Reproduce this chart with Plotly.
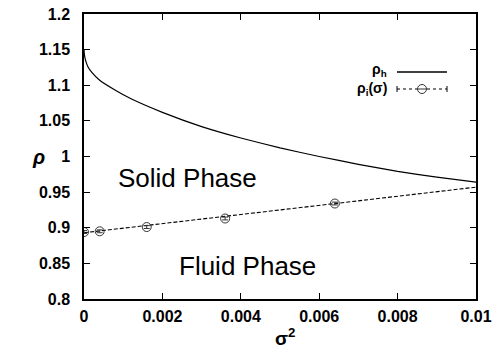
import plotly.graph_objects as go

# ---- data ----
rho_h_x = [0.0, 0.00001, 0.00004, 0.0001, 0.0002, 0.0004, 0.0008, 0.0012,
           0.002, 0.003, 0.004, 0.005, 0.006, 0.007, 0.008, 0.009, 0.01]
rho_h_y = [1.150, 1.143, 1.135, 1.126, 1.118, 1.107, 1.093, 1.081,
           1.062, 1.042, 1.026, 1.012, 1.000, 0.989, 0.979, 0.971, 0.964]

rho_i_x = [0.0, 0.0004, 0.0016, 0.0036, 0.0064]
rho_i_y = [0.894, 0.895, 0.901, 0.913, 0.934]
rho_i_err = [0.002, 0.002, 0.002, 0.002, 0.002]

fit_x = [0.0, 0.01]
fit_y = [0.893, 0.957]

x_ticks = [0, 0.002, 0.004, 0.006, 0.008, 0.01]
x_tick_labels = ["0", "0.002", "0.004", "0.006", "0.008", "0.01"]
y_ticks = [0.8, 0.85, 0.9, 0.95, 1.0, 1.05, 1.1, 1.15, 1.2]
y_tick_labels = ["0.8", "0.85", "0.9", "0.95", "1", "1.05", "1.1", "1.15", "1.2"]

W, H = 492, 349
L, R, T, B = 84, 16, 14, 50
PW, PH = W - L - R, H - T - B

def px(x):
    return (x - L) / PW

def py(y):
    return (H - B - y) / PH

FONT = "Liberation Sans, Arial, sans-serif"

fig = go.Figure()
fig.add_trace(go.Scatter(x=rho_h_x, y=rho_h_y, mode="lines",
                         line=dict(color="black", width=1.2, shape="spline", smoothing=0.3),
                         showlegend=False))
fig.add_trace(go.Scatter(x=fit_x, y=fit_y, mode="lines",
                         line=dict(color="black", width=1.1, dash="4px,2px"),
                         showlegend=False))
fig.add_trace(go.Scatter(x=rho_i_x, y=rho_i_y, mode="markers",
                         marker=dict(symbol="circle-open", size=9, color="#333",
                                     line=dict(width=1)),
                         error_y=dict(type="data", array=rho_i_err, color="#333",
                                      thickness=1, width=3),
                         showlegend=False))

def note(x, y, text, size, xanchor="center", ref="paper"):
    return dict(x=x, y=y, xref=ref if ref == "paper" else "x",
                yref=ref if ref == "paper" else "y", text=text, showarrow=False,
                xanchor=xanchor, yanchor="middle",
                font=dict(family=FONT, size=size, color="black"))

ann = [
    note(0.00263, 0.97, "Solid Phase", 26, ref="data"),
    note(0.00416, 0.847, "Fluid Phase", 26, ref="data"),
    # axis titles
    note(px(38), py(157), "<b><i>ρ</i></b>", 20),
    note(px(285), py(337), "<b>σ<sup>2</sup></b>", 19),
    # legend labels
    note(px(389), py(70), "<b>ρ<sub>h</sub></b>", 14, xanchor="right"),
    note(px(389), py(89), "<b>ρ<sub>i</sub>(σ)</b>", 14, xanchor="right"),
]

shapes = []
shapes.append(dict(type="line", xref="paper", yref="paper",
                   x0=px(397), x1=px(447), y0=py(72), y1=py(72),
                   line=dict(color="black", width=1.3)))
shapes.append(dict(type="line", xref="paper", yref="paper",
                   x0=px(397), x1=px(447), y0=py(89), y1=py(89),
                   line=dict(color="black", width=1, dash="dot")))
for xx in (397, 447):
    shapes.append(dict(type="line", xref="paper", yref="paper",
                       x0=px(xx), x1=px(xx), y0=py(86), y1=py(92),
                       line=dict(color="black", width=1)))
shapes.append(dict(type="circle", xref="paper", yref="paper",
                   x0=px(417.5), x1=px(426.5), y0=py(84.5), y1=py(93.5),
                   line=dict(color="#333", width=1), fillcolor="white"))
shapes.append(dict(type="line", xref="paper", yref="paper",
                   x0=px(417.5), x1=px(426.5), y0=py(89), y1=py(89),
                   line=dict(color="#333", width=1)))

axis_common = dict(showgrid=False, zeroline=False, showline=True, linecolor="black",
                   linewidth=1.5, mirror="ticks", ticks="inside", ticklen=6,
                   tickcolor="black", tickwidth=1, automargin=False,
                   tickfont=dict(family=FONT, size=16, color="black", weight="bold"))

fig.update_layout(
    width=W, height=H,
    margin=dict(l=L, r=R, t=T, b=B),
    paper_bgcolor="white", plot_bgcolor="white",
    xaxis=dict(range=[0, 0.01], tickvals=x_ticks, ticktext=x_tick_labels,
               ticklabelstandoff=2, **axis_common),
    yaxis=dict(range=[0.8, 1.2], tickvals=y_ticks, ticktext=y_tick_labels,
               ticklabelstandoff=9, **axis_common),
    annotations=ann, shapes=shapes, showlegend=False,
)

fig.write_html("out.html")
